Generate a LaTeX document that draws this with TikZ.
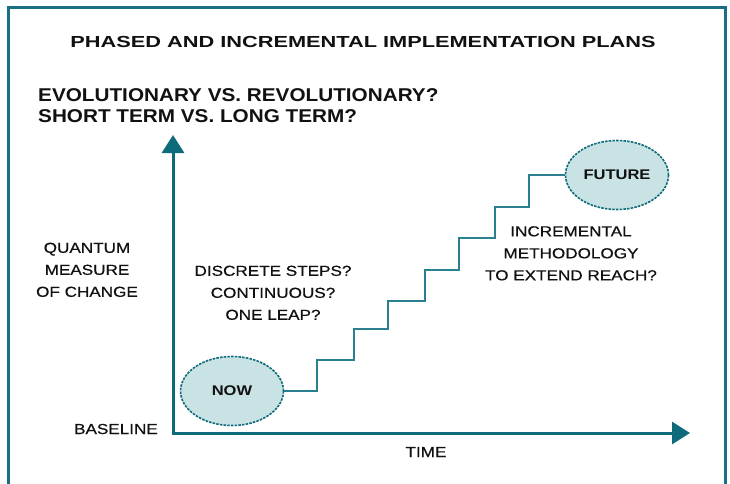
\documentclass[tikz,border=0pt]{standalone}
\usepackage{fontspec}
\setmainfont{Liberation Sans}
\newfontfamily\titlefont[FakeStretch=1.36]{Liberation Sans}
\newfontfamily\qfont[FakeStretch=1.12]{Liberation Sans}
\newfontfamily\lblfont[FakeStretch=1.18,FakeBold=0.6]{Liberation Sans}
\newfontfamily\blobfont[FakeStretch=1.18]{Liberation Sans}
\usetikzlibrary{shapes.geometric,arrows.meta}
\definecolor{framec}{HTML}{1A6E85}
\definecolor{axisc}{HTML}{0E6B7C}
\definecolor{stairc}{HTML}{2A8090}
\definecolor{blobfill}{HTML}{C9E2E4}
\definecolor{txt}{HTML}{111111}
\tikzset{
  titletext/.style={inner sep=0pt,text=txt,font=\titlefont\bfseries\fontsize{16}{19}\selectfont},
  qtext/.style={inner sep=0pt,text=txt,anchor=base west,font=\qfont\bfseries\fontsize{18.5}{21}\selectfont},
  lbl/.style={inner sep=0pt,text=txt,align=center,font=\lblfont\fontsize{14.5}{22}\selectfont},
  blob/.style={ellipse,draw=axisc,line width=1.6pt,dash pattern=on 2.5pt off 1.2pt,fill=blobfill,
     minimum width=103pt,minimum height=69pt,inner sep=0pt,text=txt,font=\blobfont\bfseries\fontsize{14}{16}\selectfont},
  axis/.style={draw=axisc,line width=3pt,{Triangle[length=18pt,width=22pt]}-{Triangle[length=18pt,width=22pt]}},
  stair/.style={draw=stairc,line width=1.8pt},
  framel/.style={draw=framec,line width=3pt}
}
\begin{document}
\begin{tikzpicture}[x=1pt,y=-1pt]
\useasboundingbox (0,0) rectangle (730,483);
\fill[white] (0,0) rectangle (730,483);
\draw[framel] (8.5,495) -- (8.5,7.5) -- (725,7.5) -- (725,495);

\node[titletext] (title) at (363,41.5) {PHASED AND INCREMENTAL IMPLEMENTATION PLANS};
\node[qtext] (q1) at (38,101.5) {EVOLUTIONARY VS. REVOLUTIONARY?};
\node[qtext] (q2) at (38,122) {SHORT TERM VS. LONG TERM?};

\coordinate (origin) at (173,433);
\coordinate (ytip) at (173,135);
\coordinate (xtip) at (690,433);
\draw[axis] (ytip) -- (origin) -- (xtip);

\node[lbl,anchor=north] (quantum) at (87,242.5) {QUANTUM\\MEASURE\\OF CHANGE};
\node[lbl,anchor=base east] (baseline) at (158,434) {BASELINE};
\node[lbl,anchor=base] (time) at (426,457) {TIME};
\node[lbl,anchor=north] (discrete) at (273,265.5) {DISCRETE STEPS?\\CONTINUOUS?\\ONE LEAP?};
\node[lbl,anchor=north] (incr) at (571,226) {INCREMENTAL\\METHODOLOGY\\TO EXTEND REACH?};

\node[blob] (now) at (232,391) {NOW};
\node[blob] (future) at (617,175) {FUTURE};

\draw[stair] (now.east) -| (317,360) -| (354,329) -| (388,301) -| (425,270)
  -| (459,238) -| (495,207) -| (529,175) -- (future.west);
\end{tikzpicture}
\end{document}
